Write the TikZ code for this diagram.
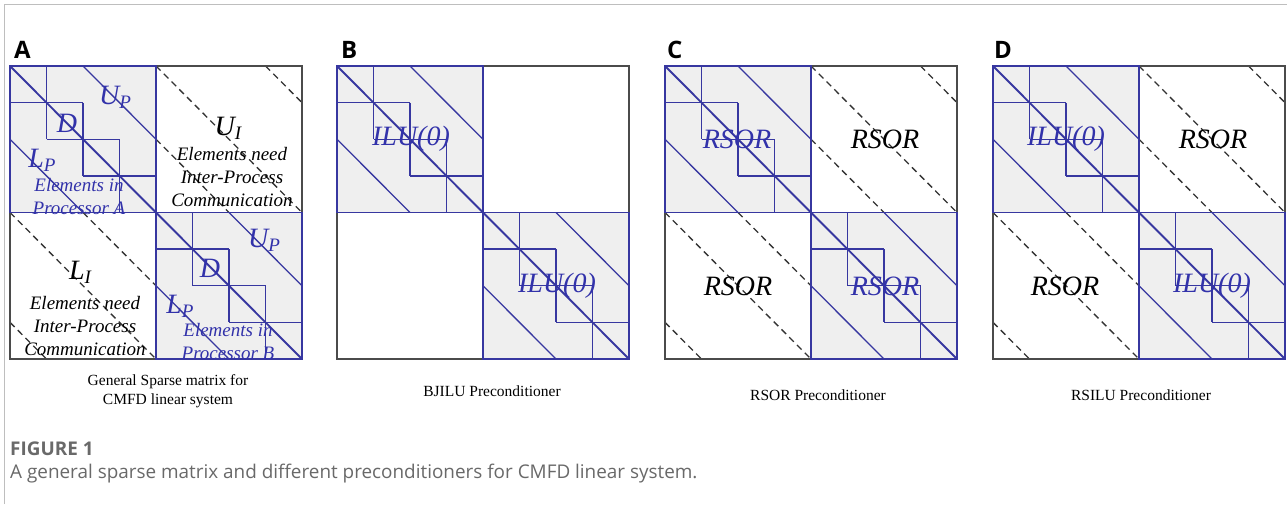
\documentclass[tikz,border=0pt]{standalone}
\usepackage{fontspec}
\setmainfont{Liberation Serif}
\newfontfamily\osans{Open Sans}
\definecolor{mblue}{RGB}{55,55,160}
\definecolor{tblue}{RGB}{50,50,170}
\definecolor{blockgray}{RGB}{239,239,239}
\definecolor{framegray}{RGB}{75,75,75}
\definecolor{capgray}{RGB}{105,105,105}
\definecolor{bordergray}{RGB}{190,190,190}
\tikzset{
  blueline/.style={draw=mblue, line width=1.3pt},
  diagline/.style={draw=mblue, line width=1.9pt},
  dashline/.style={draw=black!80, line width=1.3pt, dash pattern=on 6.5pt off 4.5pt},
  framebox/.style={draw=framegray, line width=1.4pt},
  bigtxt/.style={font=\fontsize{28}{28}\selectfont\itshape, inner sep=0pt},
  midtxt/.style={font=\fontsize{19}{23}\selectfont\itshape, inner sep=0pt, align=center},
  subcap/.style={font=\fontsize{15.5}{19}\selectfont, inner sep=0pt, align=center},
  panlab/.style={font=\fontsize{24}{24}\selectfont\osans\bfseries, inner sep=0pt, anchor=base west},
}
\newcommand\mtxpanel[1]{%
  \begin{scope}[shift={(#1pt,-66pt)}, x=292pt, y=-293pt]
    \fill[blockgray] (0,0) rectangle (0.5,0.5) (0.5,0.5) rectangle (1,1);
  \end{scope}}
\newcommand\mtxdashes[1]{%
  \begin{scope}[shift={(#1pt,-66pt)}, x=292pt, y=-293pt]
    \draw[dashline] (0.5,0.25) -- (0.75,0.5);
    \draw[dashline] (0.5,0) -- (1,0.5);
    \draw[dashline] (0.875,0) -- (1,0.125);
    \draw[dashline] (0.25,0.5) -- (0.5,0.75);
    \draw[dashline] (0,0.5) -- (0.5,1);
    \draw[dashline] (0,0.875) -- (0.125,1);
  \end{scope}}
\newcommand\mtxlines[1]{%
  \begin{scope}[shift={(#1pt,-66pt)}, x=292pt, y=-293pt]
    \draw[framebox] (0,0) rectangle (1,1);
    \draw[blueline] (0,0) rectangle (0.5,0.5) (0.5,0.5) rectangle (1,1);
    \foreach \k in {0.125,0.25,0.375,0.625,0.75,0.875}{
      \draw[blueline] (\k-0.125,\k) -- (\k+0.125,\k) (\k,\k-0.125) -- (\k,\k+0.125);
    }
    \draw[blueline] (0.25,0) -- (0.5,0.25) (0,0.25) -- (0.25,0.5);
    \draw[blueline] (0.75,0.5) -- (1,0.75) (0.5,0.75) -- (0.75,1);
    \draw[diagline] (0,0) -- (1,1);
  \end{scope}}
\newcommand\sbs[1]{\raisebox{-4pt}{\fontsize{19}{19}\selectfont #1}}
\begin{document}
\begin{tikzpicture}[x=1pt,y=-1pt]
\useasboundingbox (0,0) rectangle (1287,504);
\fill[white] (0,0) rectangle (1287,504);
\draw[bordergray, line width=1pt] (4,504) -- (4,4) -- (1287,4);

% panels
\mtxpanel{10}\mtxpanel{337}\mtxpanel{665}\mtxpanel{993}
\mtxdashes{10}\mtxdashes{665}\mtxdashes{993}
\mtxlines{10}\mtxlines{337}\mtxlines{665}\mtxlines{993}

% panel letters
\node[panlab] (labA) at (14,58) {A};
\node[panlab] (labB) at (341,58) {B};
\node[panlab] (labC) at (667,58) {C};
\node[panlab] (labD) at (994,58) {D};

% Panel A texts
\node[bigtxt, text=tblue] (aUP1) at (115,97) {U\sbs{P}};
\node[bigtxt, text=tblue] (aD1) at (67,123) {D};
\node[bigtxt, text=tblue] (aLP1) at (42,160) {L\sbs{P}};
\node[midtxt, text=tblue] (aEl1) at (79,196) {Elements in\\Processor A};
\node[bigtxt] (aUI) at (228,128) {U\sbs{I}};
\node[midtxt] (aEn1) at (232,177) {Elements need\\Inter-Process\\Communication};
\node[bigtxt] (aLI) at (80,272) {L\sbs{I}};
\node[midtxt] (aEn2) at (85,326) {Elements need\\Inter-Process\\Communication};
\node[bigtxt, text=tblue] (aUP2) at (264,240) {U\sbs{P}};
\node[bigtxt, text=tblue] (aD2) at (210,268) {D};
\node[bigtxt, text=tblue] (aLP2) at (180,306) {L\sbs{P}};
\node[midtxt, text=tblue] (aEl2) at (228,341) {Elements in\\Processor B};

% Panel B texts
\node[bigtxt, text=tblue] (bTL) at (411,139) {ILU(0)};
\node[bigtxt, text=tblue] (bBR) at (557,286) {ILU(0)};

% Panel C texts
\node[bigtxt, text=tblue] (cTL) at (737,139) {RSOR};
\node[bigtxt] (cTR) at (885,139) {RSOR};
\node[bigtxt] (cBL) at (738,286) {RSOR};
\node[bigtxt, text=tblue] (cBR) at (885,286) {RSOR};

% Panel D texts
\node[bigtxt, text=tblue] (dTL) at (1066,139) {ILU(0)};
\node[bigtxt] (dTR) at (1213,139) {RSOR};
\node[bigtxt] (dBL) at (1065,286) {RSOR};
\node[bigtxt, text=tblue] (dBR) at (1212,286) {ILU(0)};

% sub captions
\node[subcap] (capA) at (168,391) {General Sparse matrix for\\ CMFD linear system};
\node[subcap] (capB) at (492,391) {BJILU Preconditioner};
\node[subcap] (capC) at (818,395) {RSOR Preconditioner};
\node[subcap] (capD) at (1141,395) {RSILU Preconditioner};

% figure caption
\node[anchor=base west, inner sep=0pt, text=capgray, font=\fontsize{18.9}{19}\selectfont\osans\bfseries] (figlab) at (10,455) {FIGURE 1};
\node[anchor=base west, inner sep=0pt, text=capgray, font=\fontsize{18.9}{19}\selectfont\osans] (figcap) at (10,478) {A general sparse matrix and different preconditioners for CMFD linear system.};
\end{tikzpicture}
\end{document}
